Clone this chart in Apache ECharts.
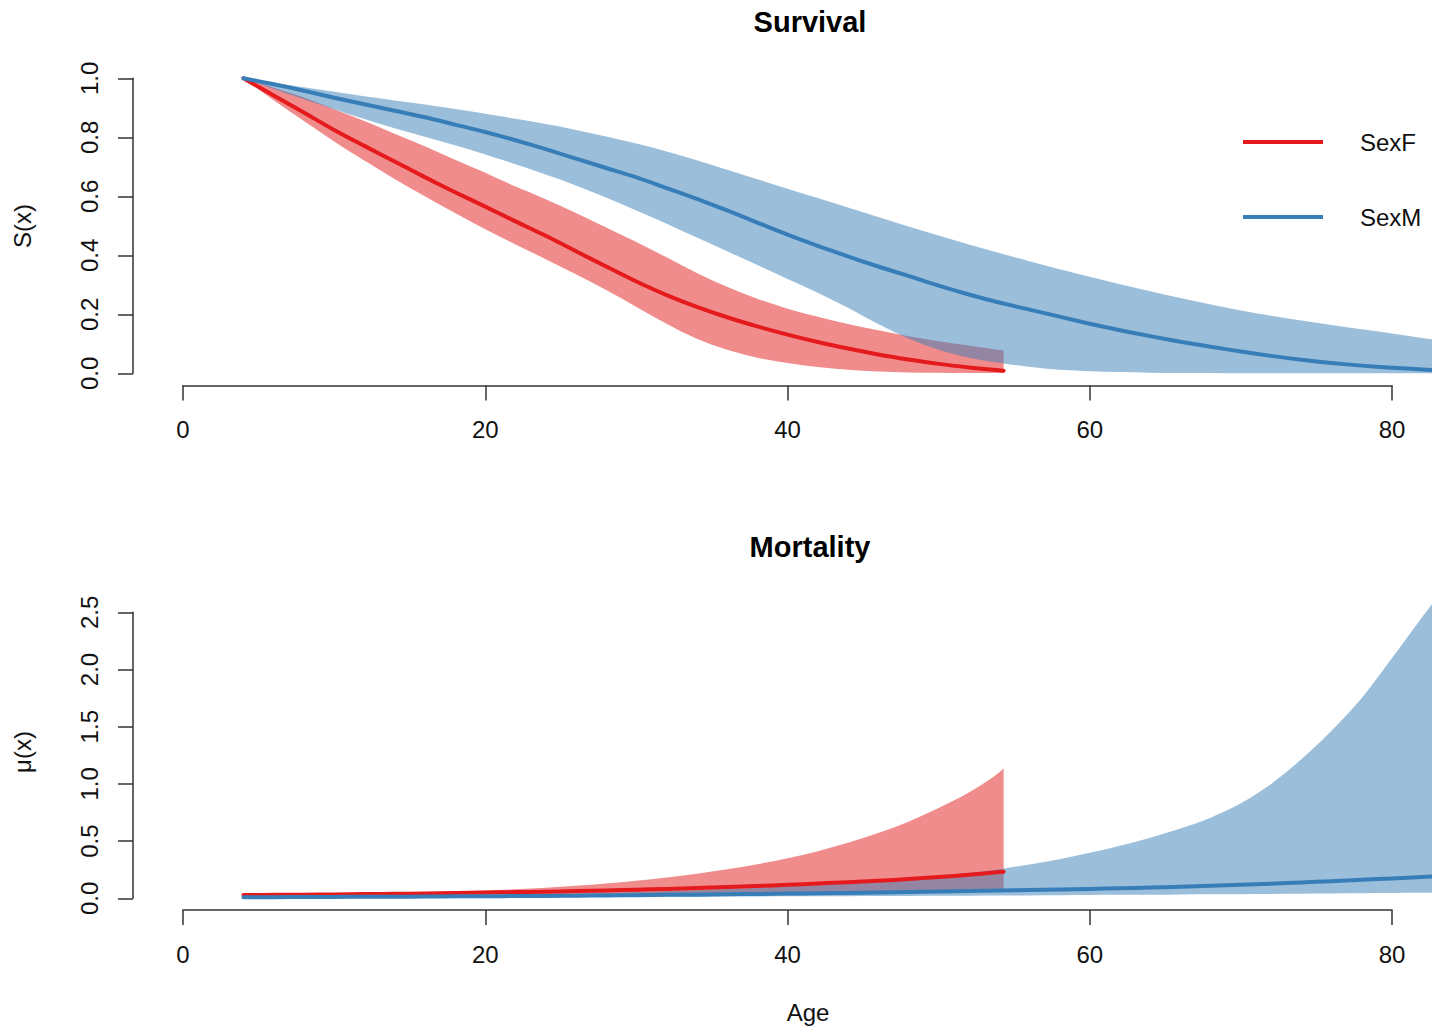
<!DOCTYPE html>
<html>
<head>
<meta charset="utf-8">
<script src="https://cdn.jsdelivr.net/npm/echarts@6/dist/echarts.min.js"></script>
<style>html,body{margin:0;padding:0;background:#fff}#c{width:1432px;height:1027px}</style>
</head>
<body>
<div id="c"></div>
<script>
// ---- data ----
const agesF = [4,6,8,10,12,14,16,18,20,22,24,26,28,30,32,34,36,38,40,42,44,46,48,50,52,54,54.3];
const agesM = [4,6,8,10,12,14,16,18,20,22,24,26,28,30,32,34,36,38,40,42,44,46,48,50,52,54,56,58,60,62,64,66,68,70,72,74,76,78,80,82,82.7];

const survF_mean  = [1.000,0.942,0.884,0.825,0.771,0.718,0.665,0.614,0.565,0.515,0.466,0.414,0.362,0.311,0.265,0.225,0.190,0.159,0.131,0.106,0.084,0.064,0.047,0.032,0.020,0.010,0.009];
const survF_lower = [1.000,0.926,0.855,0.786,0.721,0.659,0.600,0.543,0.488,0.437,0.387,0.336,0.282,0.225,0.168,0.117,0.080,0.053,0.035,0.021,0.012,0.006,0.003,0.002,0.001,0.001,0.001];
const survF_upper = [1.000,0.968,0.935,0.895,0.855,0.812,0.770,0.724,0.680,0.633,0.590,0.543,0.494,0.445,0.393,0.340,0.293,0.253,0.219,0.192,0.167,0.146,0.126,0.109,0.094,0.079,0.077];

const survM_mean  = [1.000,0.980,0.958,0.934,0.912,0.890,0.868,0.843,0.818,0.790,0.760,0.728,0.696,0.664,0.628,0.591,0.552,0.511,0.470,0.432,0.396,0.362,0.330,0.297,0.267,0.240,0.216,0.192,0.168,0.146,0.126,0.107,0.090,0.074,0.059,0.046,0.035,0.026,0.019,0.013,0.011];
const survM_lower = [1.000,0.964,0.929,0.895,0.862,0.831,0.802,0.773,0.742,0.709,0.674,0.637,0.596,0.552,0.507,0.460,0.414,0.367,0.320,0.273,0.222,0.167,0.118,0.080,0.053,0.036,0.022,0.012,0.007,0.004,0.002,0.001,0.001,0,0,0,0,0,0,0,0];
const survM_upper = [1.000,0.985,0.970,0.954,0.939,0.925,0.911,0.896,0.880,0.863,0.845,0.825,0.803,0.779,0.752,0.722,0.690,0.658,0.626,0.594,0.562,0.530,0.498,0.467,0.437,0.408,0.380,0.353,0.327,0.302,0.278,0.255,0.233,0.213,0.195,0.179,0.164,0.149,0.135,0.120,0.115];

const mortF_mean  = [0.028,0.030,0.032,0.034,0.037,0.039,0.042,0.046,0.050,0.054,0.058,0.063,0.069,0.075,0.082,0.090,0.099,0.108,0.118,0.129,0.141,0.154,0.168,0.186,0.206,0.229,0.233];
const mortF_lower = [0.022,0.023,0.024,0.025,0.026,0.027,0.029,0.030,0.031,0.033,0.034,0.036,0.038,0.040,0.042,0.044,0.046,0.048,0.050,0.053,0.055,0.058,0.061,0.064,0.067,0.070,0.071];
const mortF_upper = [0.034,0.036,0.038,0.041,0.044,0.048,0.053,0.060,0.068,0.079,0.093,0.110,0.130,0.154,0.182,0.215,0.253,0.298,0.350,0.412,0.485,0.570,0.670,0.790,0.925,1.100,1.136];

const mortM_mean  = [0.009,0.010,0.011,0.012,0.013,0.014,0.015,0.017,0.018,0.020,0.021,0.023,0.025,0.027,0.030,0.032,0.035,0.038,0.041,0.044,0.047,0.051,0.055,0.059,0.063,0.068,0.072,0.077,0.082,0.088,0.094,0.101,0.109,0.118,0.128,0.139,0.150,0.162,0.174,0.186,0.190];
const mortM_lower = [0.004,0.004,0.005,0.005,0.006,0.006,0.007,0.007,0.008,0.009,0.009,0.010,0.011,0.012,0.013,0.014,0.015,0.016,0.017,0.018,0.019,0.020,0.021,0.022,0.023,0.024,0.025,0.027,0.028,0.030,0.031,0.033,0.035,0.036,0.038,0.040,0.042,0.044,0.046,0.048,0.049];
const mortM_upper = [0.012,0.013,0.014,0.016,0.018,0.020,0.023,0.026,0.029,0.033,0.037,0.042,0.048,0.055,0.062,0.071,0.081,0.092,0.104,0.118,0.134,0.152,0.172,0.195,0.222,0.255,0.295,0.342,0.398,0.460,0.530,0.610,0.705,0.830,1.000,1.215,1.465,1.750,2.100,2.460,2.580];

const xTickMin = 0, xTickMax = 80, xTickStep = 20;
const survTickMax = 1.0, survTickStep = 0.2;
const mortTickMax = 2.5, mortTickStep = 0.5;
const seriesNames = ['SexF', 'SexM'];
const panelTitles = ['Survival', 'Mortality'];
const yNames = ['S(x)', 'μ(x)'];
const xName = 'Age';

// ---- styling ----
const RED = '#E41A1C', BLUE = '#377EB8';
const RED_FILL = 'rgba(228,26,28,0.5)', BLUE_FILL = 'rgba(55,126,184,0.5)';
const FONT = '"Liberation Sans", Arial, Helvetica, sans-serif';
const TXT = '#111';
const AX = '#333';

function pairs(xs, ys) { return xs.map((x, i) => [x, ys[i]]); }

// monotone cubic (Fritsch–Carlson) bezier segments through pixel points
function hermiteSegments(p) {
  const n = p.length, d = [], m = [];
  for (let i = 0; i < n - 1; i++) d.push((p[i + 1][1] - p[i][1]) / (p[i + 1][0] - p[i][0]));
  for (let i = 0; i < n; i++) {
    if (i === 0) m.push(d[0]);
    else if (i === n - 1) m.push(d[n - 2]);
    else m.push(d[i - 1] * d[i] <= 0 ? 0 : (d[i - 1] + d[i]) / 2);
  }
  for (let i = 0; i < n - 1; i++) {
    if (d[i] === 0) { m[i] = 0; m[i + 1] = 0; continue; }
    const a = m[i] / d[i], b = m[i + 1] / d[i], s = a * a + b * b;
    if (s > 9) { const t = 3 / Math.sqrt(s); m[i] = t * a * d[i]; m[i + 1] = t * b * d[i]; }
  }
  const segs = [];
  for (let i = 0; i < n - 1; i++) {
    const h = (p[i + 1][0] - p[i][0]) / 3;
    segs.push([p[i], [p[i][0] + h, p[i][1] + m[i] * h], [p[i + 1][0] - h, p[i + 1][1] - m[i + 1] * h], p[i + 1]]);
  }
  return segs;
}
const f = v => v.toFixed(2);

// confidence band: closed smooth area through the axis scales (upper edge, then lower edge back)
function bandSeries(name, xs, lo, hi, fill, axis) {
  return {
    type: 'custom', name: name, xAxisIndex: axis, yAxisIndex: axis, silent: true,
    data: xs.map((x, i) => [x, lo[i], hi[i]]),
    encode: { x: 0, y: [1, 2] },
    renderItem: function (params, api) {
      if (params.dataIndex !== 0) return null;
      const up = xs.map((x, i) => api.coord([x, hi[i]]));
      const dn = xs.map((x, i) => api.coord([x, lo[i]]));
      let d = 'M' + f(up[0][0]) + ' ' + f(up[0][1]);
      hermiteSegments(up).forEach(s => { d += 'C' + [s[1], s[2], s[3]].map(q => f(q[0]) + ' ' + f(q[1])).join(' '); });
      const last = dn[dn.length - 1];
      d += 'L' + f(last[0]) + ' ' + f(last[1]);
      hermiteSegments(dn).reverse().forEach(s => { d += 'C' + [s[2], s[1], s[0]].map(q => f(q[0]) + ' ' + f(q[1])).join(' '); });
      d += 'Z';
      return { type: 'path', shape: { pathData: d }, style: { fill: fill, stroke: null, lineWidth: 0 } };
    }
  };
}
function meanLine(name, xs, ys, color, axis) {
  return {
    type: 'line', name: name, xAxisIndex: axis, yAxisIndex: axis,
    data: pairs(xs, ys), symbol: 'none', smooth: 0.3,
    color: color, itemStyle: { color: color },
    lineStyle: { color: color, width: 4, cap: 'round', join: 'round' }
  };
}

const PX_PER_YEAR = 1209 / 80;
// data grids cover the whole plotting region (R extends limits by 4%)
function dataX(grid, name) {
  return {
    type: 'value', gridIndex: grid, min: -50 / PX_PER_YEAR, max: -50 / PX_PER_YEAR + 1350 / PX_PER_YEAR,
    axisLine: { show: false }, axisTick: { show: false }, axisLabel: { show: false }, splitLine: { show: false },
    name: name, nameLocation: 'middle', nameGap: 90,
    nameTextStyle: { fontSize: 24, fontFamily: FONT, color: TXT }
  };
}
function dataY(grid, min, max, name) {
  return {
    type: 'value', gridIndex: grid, min: min, max: max,
    axisLine: { show: false }, axisTick: { show: false }, axisLabel: { show: false }, splitLine: { show: false },
    name: name, nameLocation: 'middle', nameGap: 99, nameRotate: 90,
    nameTextStyle: { fontSize: 24, fontFamily: FONT, color: TXT }
  };
}
// display axes: lines only from first to last tick, as in R
function showX(grid, offset) {
  return {
    type: 'value', gridIndex: grid, min: xTickMin, max: xTickMax, interval: xTickStep, position: 'bottom', offset: offset,
    axisLine: { show: true, onZero: false, lineStyle: { color: AX, width: 1.5 } },
    axisTick: { show: true, length: 15, lineStyle: { color: AX, width: 1.5 } },
    axisLabel: { fontSize: 24, fontFamily: FONT, color: TXT, margin: 32, formatter: v => String(v) },
    splitLine: { show: false }
  };
}
function showY(grid, max, interval) {
  return {
    type: 'value', gridIndex: grid, min: 0, max: max, interval: interval, position: 'left', offset: 50,
    axisLine: { show: true, onZero: false, lineStyle: { color: AX, width: 1.5 } },
    axisTick: { show: true, length: 15, lineStyle: { color: AX, width: 1.5 } },
    axisLabel: { fontSize: 24, fontFamily: FONT, color: TXT, margin: 32, rotate: 90, formatter: v => v.toFixed(1) },
    splitLine: { show: false }
  };
}

const chart = echarts.init(document.getElementById('c'), null, { renderer: 'svg' });
chart.setOption({
  animation: false,
  backgroundColor: '#fff',
  title: [
    { text: panelTitles[0], left: 805, top: 2, textAlign: 'center',
      textStyle: { fontSize: 29, fontWeight: 'bold', fontFamily: FONT, color: '#000' } },
    { text: panelTitles[1], left: 805, top: 527, textAlign: 'center',
      textStyle: { fontSize: 29, fontWeight: 'bold', fontFamily: FONT, color: '#000' } }
  ],
  legend: {
    data: seriesNames, orient: 'vertical', left: 1238, top: 125,
    itemWidth: 80, itemHeight: 4, itemGap: 51, icon: 'rect', selectedMode: false,
    textStyle: { fontSize: 24, fontFamily: FONT, color: TXT, padding: [0, 0, 0, 32] }
  },
  grid: [
    { left: 133, top: 66.5, width: 1350, height: 319, outerBoundsMode: 'none' },   // survival data
    { left: 183, top: 78.3, width: 1209, height: 295, outerBoundsMode: 'none' },   // survival axes
    { left: 133, top: 594, width: 1350, height: 316, outerBoundsMode: 'none' },    // mortality data
    { left: 183, top: 612.3, width: 1209, height: 286, outerBoundsMode: 'none' }   // mortality axes
  ],
  xAxis: [dataX(0, ''), showX(1, 12.2), dataX(2, xName), showX(3, 11.7)],
  yAxis: [
    dataY(0, -12.2 / 295, -12.2 / 295 + 319 / 295, yNames[0]),
    showY(1, survTickMax, survTickStep),
    dataY(2, -11.7 / 114.4, -11.7 / 114.4 + 316 / 114.4, yNames[1]),
    showY(3, mortTickMax, mortTickStep)
  ],
  series: [
    bandSeries('SexF band S', agesF, survF_lower, survF_upper, RED_FILL, 0),
    bandSeries('SexM band S', agesM, survM_lower, survM_upper, BLUE_FILL, 0),
    meanLine(seriesNames[0], agesF, survF_mean, RED, 0),
    meanLine(seriesNames[1], agesM, survM_mean, BLUE, 0),
    bandSeries('SexF band mu', agesF, mortF_lower, mortF_upper, RED_FILL, 2),
    bandSeries('SexM band mu', agesM, mortM_lower, mortM_upper, BLUE_FILL, 2),
    meanLine(seriesNames[0], agesF, mortF_mean, RED, 2),
    meanLine(seriesNames[1], agesM, mortM_mean, BLUE, 2)
  ]
});
</script>
</body>
</html>
